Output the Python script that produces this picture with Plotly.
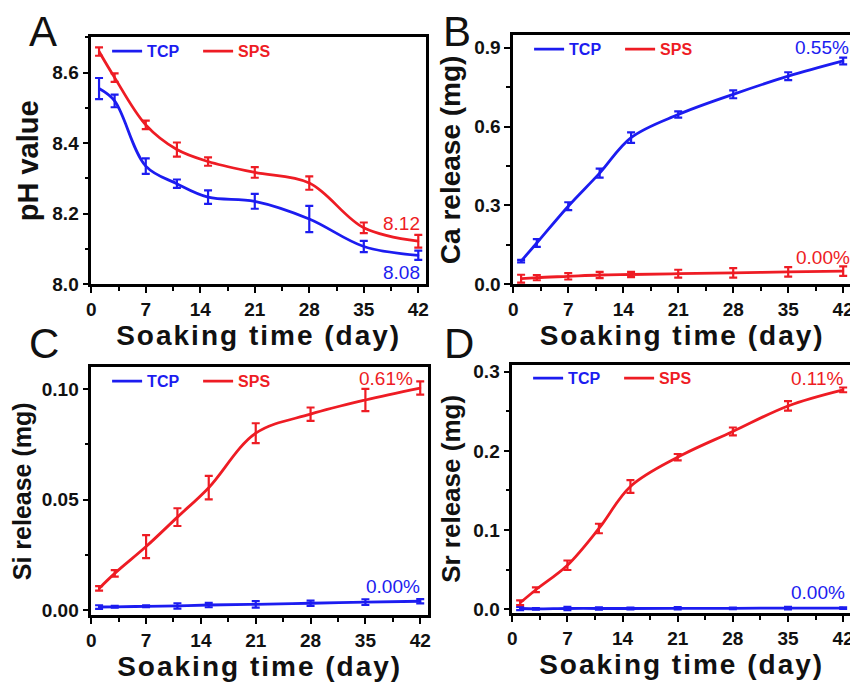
import plotly.graph_objects as go

# the page body has an 8px margin, so the figure is drawn 8px in and
# 8px smaller than the 858x683 window
OFF = 8
W, H = 858 - OFF, 683 - OFF
BLUE = "#1c1cf0"
RED = "#ee1c24"
FONT = "Liberation Sans, Arial, sans-serif"

days = [1, 3, 7, 11, 15, 21, 28, 35, 42]

# A: pH value
ph_tcp = [8.555, 8.52, 8.335, 8.285, 8.247, 8.235, 8.185, 8.107, 8.082]
ph_tcp_err = [0.03, 0.018, 0.022, 0.012, 0.019, 0.021, 0.037, 0.016, 0.013]
ph_sps = [8.66, 8.586, 8.452, 8.382, 8.348, 8.317, 8.287, 8.16, 8.122]
ph_sps_err = [0.012, 0.012, 0.012, 0.02, 0.012, 0.015, 0.019, 0.015, 0.018]

# B: Ca release (mg)
ca_tcp = [0.088, 0.157, 0.297, 0.423, 0.558, 0.646, 0.723, 0.792, 0.85]
ca_tcp_err = [0.005, 0.015, 0.015, 0.017, 0.02, 0.012, 0.015, 0.015, 0.013]
ca_sps = [0.021, 0.025, 0.03, 0.035, 0.037, 0.04, 0.043, 0.047, 0.05]
ca_sps_err = [0.015, 0.01, 0.012, 0.012, 0.01, 0.015, 0.018, 0.018, 0.018]

# C: Si release (mg)
si_tcp = [0.0015, 0.0016, 0.0018, 0.002, 0.0024, 0.0027, 0.0032, 0.0037, 0.0041]
si_tcp_err = [0.0008, 0.0004, 0.0004, 0.0012, 0.001, 0.0015, 0.0012, 0.0013, 0.001]
si_sps = [0.0099, 0.0167, 0.0288, 0.0421, 0.0554, 0.080, 0.0886, 0.095, 0.1004]
si_sps_err = [0.001, 0.0015, 0.0052, 0.004, 0.0053, 0.0045, 0.003, 0.005, 0.003]

# D: Sr release (mg)
sr_tcp = [0.001, 0.0005, 0.001, 0.001, 0.001, 0.0012, 0.0012, 0.0015, 0.0015]
sr_tcp_err = [0.002, 0.001, 0.002, 0.0015, 0.001, 0.0015, 0.001, 0.0015, 0.001]
sr_sps = [0.0082, 0.0247, 0.0556, 0.102, 0.155, 0.192, 0.2245, 0.2567, 0.277]
sr_sps_err = [0.003, 0.003, 0.006, 0.006, 0.008, 0.004, 0.005, 0.006, 0.003]


def px(x, y):
    """window pixel position -> paper coords"""
    return (x - OFF) / W, 1 - (y - OFF) / H


# panel boxes in window pixels: left, top, right, bottom
boxes = [(87, 35, 425, 287), (513, 33, 854, 287),
         (87, 372, 427, 625), (512, 369, 854, 623)]

panels = [
    dict(tcp=ph_tcp, tcp_err=ph_tcp_err, sps=ph_sps, sps_err=ph_sps_err,
         yrange=[8.0, 8.7], dtick=0.2, fmt=".1f", title="pH value", tsize=29),
    dict(tcp=ca_tcp, tcp_err=ca_tcp_err, sps=ca_sps, sps_err=ca_sps_err,
         yrange=[0, 0.947], dtick=0.3, fmt=".1f", title="Ca release (mg)", tsize=28),
    dict(tcp=si_tcp, tcp_err=si_tcp_err, sps=si_sps, sps_err=si_sps_err,
         yrange=[-0.0022, 0.1097], dtick=0.05, fmt=".2f", title="Si release (mg)",
         tsize=25),
    dict(tcp=sr_tcp, tcp_err=sr_tcp_err, sps=sr_sps, sps_err=sr_sps_err,
         yrange=[-0.005, 0.309], dtick=0.1, fmt=".1f", title="Sr release (mg)",
         tsize=26),
]

fig = go.Figure()
layout = {}
for i, (p, box) in enumerate(zip(panels, boxes), start=1):
    sfx = "" if i == 1 else str(i)
    xa, ya = f"x{sfx}", f"y{sfx}"
    leg = "legend" if i == 1 else f"legend{i}"
    for name, col, vals, errs in [("TCP", BLUE, p["tcp"], p["tcp_err"]),
                                  ("SPS", RED, p["sps"], p["sps_err"])]:
        fig.add_trace(go.Scatter(
            x=days, y=vals, mode="lines", line=dict(color=col, width=2.8, shape="spline"),
            name=f"<span style='color:{col}'><b>{name}</b></span>",
            xaxis=xa, yaxis=ya, legend=leg, hoverinfo="skip"))
        fig.add_trace(go.Scatter(
            x=days, y=vals, mode="markers", marker=dict(color=col, size=2),
            error_y=dict(type="data", array=errs, color=col, thickness=2.2, width=4),
            xaxis=xa, yaxis=ya, showlegend=False))

    x0, y1 = px(box[0], box[3])
    x1, y0 = px(box[2], box[1])
    axis_common = dict(showline=True, linewidth=2.5, linecolor="black", mirror=True,
                       ticks="outside", ticklen=6, tickwidth=2, tickcolor="black",
                       showgrid=False, zeroline=False,
                       tickfont=dict(size=19, family=FONT, color="#111", weight="bold"))
    layout[f"xaxis{sfx}"] = dict(
        domain=[x0, x1], anchor=ya, range=[0, 43], dtick=7, tick0=0,
        minor=dict(ticks="outside", ticklen=4, tickwidth=2, dtick=3.5, tick0=0,
                   tickcolor="black"),
        title=dict(text="<span style='letter-spacing:2px'><b>Soaking time (day)</b></span>",
                   standoff=2, font=dict(size=28, family=FONT, color="#111")),
        **axis_common)
    layout[f"yaxis{sfx}"] = dict(
        domain=[y1, y0], anchor=xa, range=p["yrange"], dtick=p["dtick"], tick0=0,
        tickformat=p["fmt"],
        minor=dict(ticks="outside", ticklen=4, tickwidth=2, dtick=p["dtick"] / 2,
                   tick0=0, tickcolor="black"),
        title=dict(text=f"<b>{p['title']}</b>", standoff=6,
                   font=dict(size=p["tsize"], family=FONT, color="#111")),
        **axis_common)
    lx, ly = px(box[0] + 16, box[1] + 14)
    layout[leg] = dict(x=lx, y=ly, xanchor="left", yanchor="middle", orientation="h",
                       bgcolor="rgba(0,0,0,0)", borderwidth=0,
                       font=dict(size=16, family=FONT), itemwidth=30,
                       entrywidth=46, tracegroupgap=0)

ann = []
letters = [("A", 38, 29), ("B", 456, 29), ("C", 39, 348), ("D", 458, 348)]
for t, x, y in letters:
    ax, ay = px(x, y)
    ann.append(dict(text=t, x=ax, y=ay, xref="paper", yref="paper", showarrow=False,
                    xanchor="center", yanchor="middle",
                    font=dict(size=42, family=FONT, color="#111")))

labels = [("8.12", RED, 421, 225), ("8.08", BLUE, 421, 275),
          ("0.55%", BLUE, 854, 45), ("0.00%", RED, 855, 260),
          ("0.61%", RED, 414, 383), ("0.00%", BLUE, 421, 596),
          ("0.11%", RED, 849, 383), ("0.00%", BLUE, 850, 602)]
for t, c, x, y in labels:
    ax, ay = px(x, y)
    ann.append(dict(text=t, x=ax, y=ay, xref="paper", yref="paper", showarrow=False,
                    xanchor="right", yanchor="middle",
                    font=dict(size=19, family=FONT, color=c)))

fig.update_layout(**layout)
fig.update_layout(
    width=W, height=H, margin=dict(l=0, r=0, t=0, b=0),
    paper_bgcolor="white", plot_bgcolor="white",
    font=dict(family=FONT, color="#111"),
    annotations=ann, showlegend=True,
)

fig.write_html("out.html")
